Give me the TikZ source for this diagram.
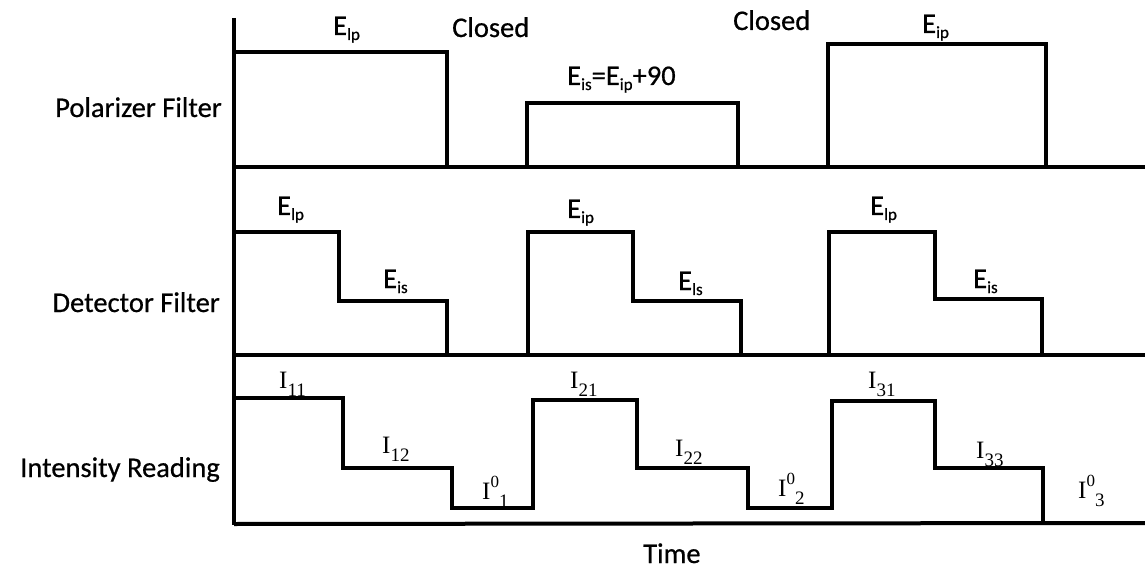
\documentclass[tikz,border=0pt]{standalone}
\usepackage{fontspec}
\setmainfont{Carlito}[FakeBold=0.6,AutoFakeBold=0.6]
\newfontfamily\seriffont{Liberation Serif}
% lowered / raised small text for indices
\newcommand\lowsub[1]{\raisebox{-5pt}{\fontsize{17}{17}\selectfont #1}}
\newcommand\isub[1]{\raisebox{-8pt}{\fontsize{19}{19}\selectfont #1}}
\newcommand\isup[1]{\raisebox{12pt}{\fontsize{17}{17}\selectfont #1}}
\begin{document}
\begin{tikzpicture}[x=1pt,y=-1pt,
  trace/.style={line width=4pt,line join=miter},
  lab/.style={font=\bfseries\fontsize{28.5}{30}\selectfont,inner sep=0pt,anchor=base west},
  rowlab/.style={font=\bfseries\fontsize{28.5}{30}\selectfont,inner sep=0pt,anchor=base east},
  ilab/.style={font=\seriffont\fontsize{25}{27}\selectfont,inner sep=0pt,anchor=base west}]
\useasboundingbox (0,0) rectangle (1145,569);

% time axis
\draw[trace] (234,18) -- (234,525);

% polarizer filter trace and its baseline
\draw[trace] (234,167) -- (1145,167);
\draw[trace] (234,52) -- (447,52) -- (447,167);
\draw[trace] (527,167) -- (527,103) -- (738,103) -- (738,167);
\draw[trace] (828,167) -- (828,44) -- (1046,44) -- (1046,167);

% detector filter trace and its baseline
\draw[trace] (234,355) -- (1145,355);
\draw[trace] (234,232) -- (339,232) -- (339,301) -- (447,301) -- (447,355);
\draw[trace] (528,355) -- (528,232) -- (633,232) -- (633,301) -- (741,301) -- (741,355);
\draw[trace] (829,355) -- (829,232) -- (935,232) -- (935,299) -- (1042,299) -- (1042,355);

% intensity reading trace and its baseline
\draw[trace] (234,524) -- (1145,523);
\draw[trace] (234,398) -- (343,398) -- (343,468) -- (452,468) -- (452,508)
  -- (533,508) -- (533,400) -- (637,400) -- (637,468) -- (748,468) -- (748,508)
  -- (832,508) -- (832,401) -- (935,401) -- (935,468) -- (1043,468) -- (1043,523);

% row titles
\node[rowlab] (tpol) at (222,117) {Polarizer Filter};
\node[rowlab] (tdet) at (220,312) {Detector Filter};
\node[rowlab] (tint) at (220,477) {Intensity Reading};
\node[lab] (ttime) at (643,563) {Time};

% polarizer labels
\node[lab] (p1) at (333,35) {E\lowsub{lp}};
\node[lab] (c1) at (452,37) {Closed};
\node[lab] (p2) at (567,85) {E\lowsub{is}=E\lowsub{ip}+90};
\node[lab] (c2) at (733,30) {Closed};
\node[lab] (p3) at (922,33) {E\lowsub{ip}};

% detector labels
\node[lab] (d1a) at (277,215) {E\lowsub{lp}};
\node[lab] (d1b) at (383,288) {E\lowsub{is}};
\node[lab] (d2a) at (567,218) {E\lowsub{ip}};
\node[lab] (d2b) at (678,290) {E\lowsub{ls}};
\node[lab] (d3a) at (870,215) {E\lowsub{lp}};
\node[lab] (d3b) at (973,288) {E\lowsub{is}};

% intensity labels
\node[ilab] (i11) at (279,388) {I\isub{11}};
\node[ilab] (i12) at (382,453) {I\isub{12}};
\node[ilab] (i01) at (482,499) {I\isup{0}\isub{1}};
\node[ilab] (i21) at (570,388) {I\isub{21}};
\node[ilab] (i22) at (675,456) {I\isub{22}};
\node[ilab] (i02) at (778,496) {I\isup{0}\isub{2}};
\node[ilab] (i31) at (868,388) {I\isub{31}};
\node[ilab] (i33) at (976,458) {I\isub{33}};
\node[ilab] (i03) at (1078,498) {I\isup{0}\isub{3}};
\end{tikzpicture}
\end{document}
